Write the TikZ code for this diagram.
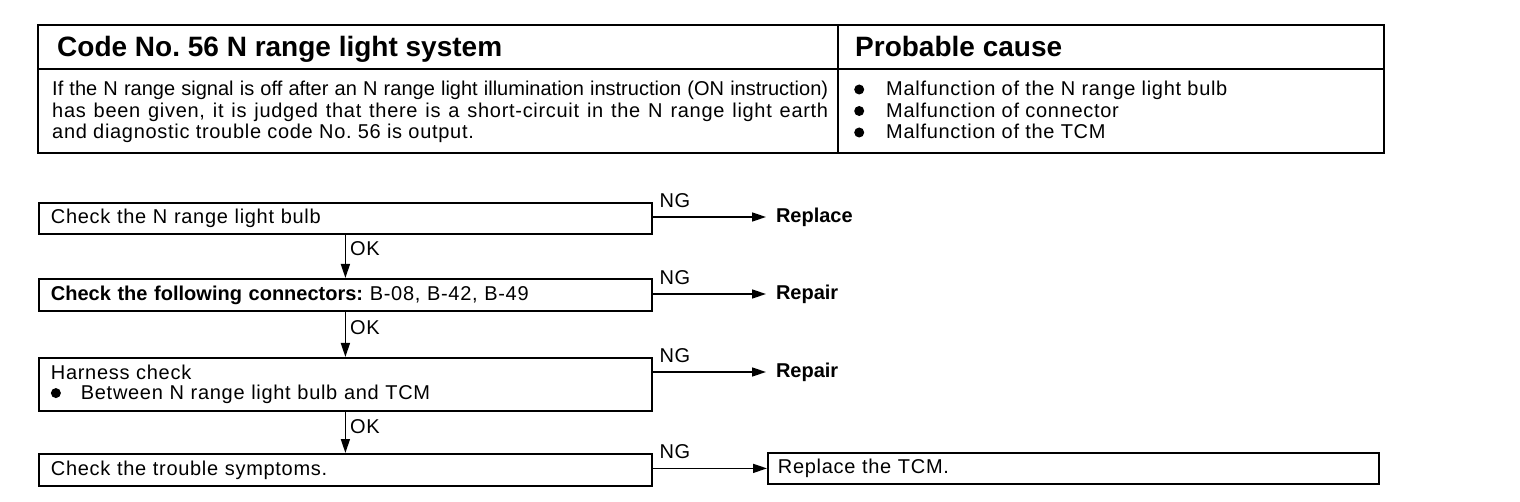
\documentclass[tikz,border=0pt]{standalone}
\usepackage{fontspec}
\setmainfont{Liberation Sans}
\newfontfamily\trackfont[LetterSpace=3.5]{Liberation Sans}
\usetikzlibrary{arrows.meta, positioning}
\frenchspacing

\newcommand{\blob}{\tikz[baseline={(0,-6.5pt)}]\fill (0,0) circle[radius=5pt];}

\tikzset{
  flowtext/.style={font=\trackfont\fontsize{20}{20}\selectfont},
  stepbox/.style={draw, line width=1.8pt, anchor=north west, inner xsep=12pt,
    inner ysep=0pt, text width=589pt, align=left, flowtext},
  resulttext/.style={anchor=west, inner xsep=10pt, outer sep=0pt,
    font=\bfseries\fontsize{20}{20}\selectfont},
  flowarrow/.style={line width=1.6pt, -{Triangle[length=14pt, width=9pt]}},
  nglabel/.style={pos=0, anchor=south west, xshift=6pt, yshift=9pt, inner sep=0pt, flowtext},
  oklabel/.style={right, inner xsep=4pt, flowtext},
  desctext/.style={anchor=base west, inner sep=0pt, font=\fontsize{20}{20}\selectfont},
  headtext/.style={anchor=base west, inner sep=0pt, font=\bfseries\fontsize{28}{28}\selectfont}
}

\begin{document}
\begin{tikzpicture}[x=1pt, y=-1pt]
  \useasboundingbox (0,0) rectangle (1520,502);

  % ── HEADER TABLE ───────────────────────────
  \draw[line width=2.5pt] (38,25) rectangle (1384,153);
  \draw[line width=1.6pt] (38,69) -- (1384,69);
  \draw[line width=1.6pt] (838,25) -- (838,153);
  \node[headtext] (codetitle) at (57,57) {Code No. 56 N range light system};
  \node[headtext] (causetitle) at (855,57) {Probable cause};
  % Description
  \node[desctext] (desc1) at (52,96)
    {\makebox[776pt][s]{If the N range signal is off after an N range light illumination instruction (ON instruction)}};
  \node[desctext] (desc2) at (52,117.5)
    {\trackfont\makebox[776pt][s]{has been given, it is judged that there is a short-circuit in the N range light earth}};
  \node[desctext] (desc3) at (52,139)
    {\trackfont and diagnostic trouble code No. 56 is output.};
  % Causes
  \foreach \y/\txt [count=\i] in {96/Malfunction of the N range light bulb,
                                  117.5/Malfunction of connector,
                                  139/Malfunction of the TCM} {
    \node[desctext] (cause\i) at (854,\y)
      {\trackfont\makebox[32pt][l]{\blob}\txt};
  }

  % ── FLOW STEPS ─────────────────────────────
  \node[stepbox, minimum height=31pt] (bulb) at (38,202)
    {Check the N range light bulb};
  \node[stepbox, minimum height=32pt] (connectors) at (38,278)
    {{\fontspec{Liberation Sans}\bfseries Check the following connectors:} B-08, B-42, B-49};
  \node[stepbox, minimum height=53pt] (harness) at (38,357)
    {Harness check\\\makebox[30pt][l]{\blob}Between N range light bulb and TCM};
  \node[stepbox, minimum height=32pt] (symptoms) at (38,453)
    {Check the trouble symptoms.};

  % ── RESULTS ────────────────────────────────
  \node[resulttext] (replace) at (766,217) {Replace};
  \node[resulttext] (repairA) at (766,294) {Repair};
  \node[resulttext] (repairB) at (766,372) {Repair};
  \node[stepbox, text width=591pt, inner xsep=10pt, minimum height=31pt]
    (tcm) at (767,452) {Replace the TCM.};

  % ── NG ARROWS ──────────────────────────────
  \draw[flowarrow] (bulb.east |- replace.west) -- node[nglabel] {NG} (replace.west);
  \draw[flowarrow] (connectors.east |- repairA.west) -- node[nglabel] {NG} (repairA.west);
  \draw[flowarrow] (harness.east |- repairB.west) -- node[nglabel] {NG} (repairB.west);
  \draw[flowarrow] (symptoms.east |- tcm.west) -- node[nglabel] {NG} (tcm.west);

  % ── OK ARROWS ──────────────────────────────
  \draw[flowarrow] (bulb.south) -- node[oklabel, pos=0.33] {OK} (connectors.north);
  \draw[flowarrow] (connectors.south) -- node[oklabel, pos=0.36] {OK} (harness.north);
  \draw[flowarrow] (harness.south) -- node[oklabel, pos=0.37] {OK} (symptoms.north);
\end{tikzpicture}
\end{document}
